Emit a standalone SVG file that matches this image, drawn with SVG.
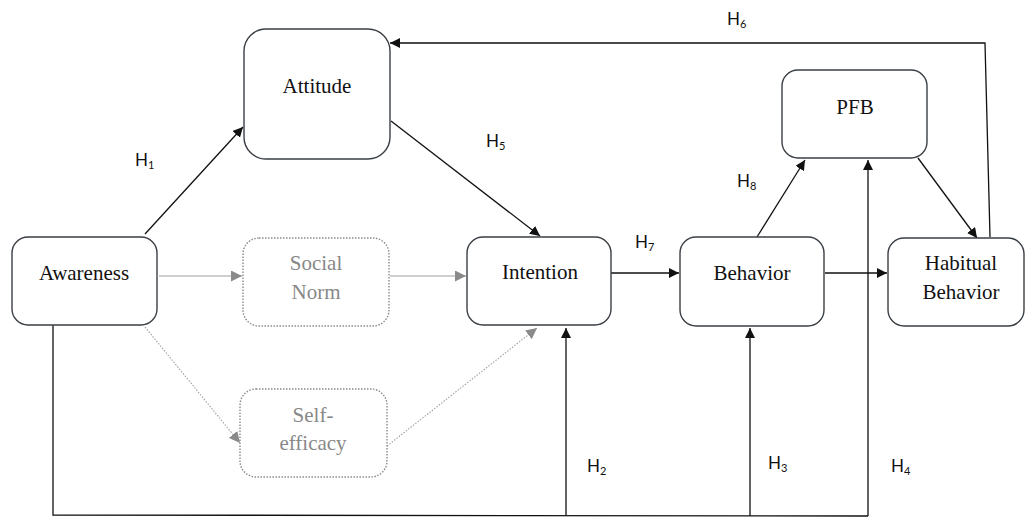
<svg xmlns="http://www.w3.org/2000/svg" width="1025" height="518" viewBox="0 0 1025 518">
<style>
.box{fill:#fff;stroke:#3a3f45;stroke-width:1.4}
.dbox{fill:#fff;stroke:#8a8a8a;stroke-width:1.4;stroke-dasharray:1.5 1.5}
.ntext{font-family:"Liberation Serif",serif;font-size:21px;fill:#111;text-anchor:middle}
.ntextg{font-family:"Liberation Serif",serif;font-size:21px;fill:#888;text-anchor:middle}
.hlabel{font-family:Lato,"Liberation Sans",sans-serif;font-size:17px;fill:#111}
.hsub{font-size:11px}
.c{fill:none;stroke:#111;stroke-width:1.3}
.cg{fill:none;stroke:#a0a0a0;stroke-width:1.2}
.cd{fill:none;stroke:#a0a0a0;stroke-width:1.1;stroke-dasharray:1.5 1.5}
</style>
<defs>
<marker id="ah" viewBox="0 0 10 10" refX="10" refY="5" markerWidth="10" markerHeight="10" markerUnits="userSpaceOnUse" orient="auto">
<path d="M0,0 L10,5 L0,10 z" fill="#111"/>
</marker>
<marker id="ahg" viewBox="0 0 10 10" refX="10" refY="5" markerWidth="11" markerHeight="11" markerUnits="userSpaceOnUse" orient="auto">
<path d="M0,0 L10,5 L0,10 z" fill="#8a8a8a"/>
</marker>
</defs>
<g id="connectors">
<line class="c" x1="145" y1="234" x2="243" y2="127" marker-end="url(#ah)"/>
<line class="c" x1="391" y1="121" x2="540" y2="236" marker-end="url(#ah)"/>
<polyline class="c" points="990,237 985,43 390,43" marker-end="url(#ah)"/>
<line class="cg" x1="159" y1="276" x2="242" y2="276" marker-end="url(#ahg)"/>
<line class="cg" x1="390" y1="276" x2="466" y2="276" marker-end="url(#ahg)"/>
<line class="cd" x1="145" y1="327" x2="240" y2="443" marker-end="url(#ahg)"/>
<line class="cd" x1="387" y1="446" x2="537" y2="328" marker-end="url(#ahg)"/>
<line class="c" x1="610" y1="273" x2="679" y2="273" marker-end="url(#ah)"/>
<line class="c" x1="825" y1="273" x2="887" y2="273" marker-end="url(#ah)"/>
<line class="c" x1="757" y1="237" x2="805" y2="160" marker-end="url(#ah)"/>
<line class="c" x1="918" y1="158" x2="977" y2="238" marker-end="url(#ah)"/>
<polyline class="c" points="53,325 53,515 868,516"/>
<line class="c" x1="566" y1="515" x2="566" y2="328" marker-end="url(#ah)"/>
<line class="c" x1="750" y1="516" x2="750" y2="328" marker-end="url(#ah)"/>
<line class="c" x1="868" y1="516" x2="868" y2="160" marker-end="url(#ah)"/>
</g>
<g id="labels">
<text class="hlabel" font-family="Lato" x="135" y="166">H<tspan class="hsub" dy="3">1</tspan></text>
<text class="hlabel" font-family="Lato" x="486" y="147">H<tspan class="hsub" dy="3">5</tspan></text>
<text class="hlabel" font-family="Lato" x="727" y="25">H<tspan class="hsub" dy="3">6</tspan></text>
<text class="hlabel" font-family="Lato" x="737" y="187">H<tspan class="hsub" dy="3">8</tspan></text>
<text class="hlabel" font-family="Lato" x="635" y="248">H<tspan class="hsub" dy="3">7</tspan></text>
<text class="hlabel" font-family="Lato" x="587" y="472">H<tspan class="hsub" dy="3">2</tspan></text>
<text class="hlabel" font-family="Lato" x="768" y="469">H<tspan class="hsub" dy="3">3</tspan></text>
<text class="hlabel" font-family="Lato" x="891" y="472">H<tspan class="hsub" dy="3">4</tspan></text>
</g>
<g id="attitude">
<rect class="box" x="244" y="29" width="146" height="130" rx="22"/>
<text class="ntext" font-family="Liberation Serif" x="317" y="93">Attitude</text>
</g>
<g id="pfb">
<rect class="box" x="782" y="70" width="145" height="88" rx="16"/>
<text class="ntext" font-family="Liberation Serif" x="855" y="114">PFB</text>
</g>
<g id="awareness">
<rect class="box" x="12" y="237" width="145" height="88" rx="16"/>
<text class="ntext" font-family="Liberation Serif" x="84" y="280">Awareness</text>
</g>
<g id="social-norm">
<rect class="dbox" x="243" y="238" width="146" height="88" rx="16"/>
<text class="ntextg" font-family="Liberation Serif" x="316" y="270">Social</text>
<text class="ntextg" font-family="Liberation Serif" x="316" y="299">Norm</text>
</g>
<g id="self-efficacy">
<rect class="dbox" x="240" y="389" width="147" height="88" rx="16"/>
<text class="ntextg" font-family="Liberation Serif" x="313" y="422">Self-</text>
<text class="ntextg" font-family="Liberation Serif" x="313" y="450">efficacy</text>
</g>
<g id="intention">
<rect class="box" x="467" y="237" width="144" height="88" rx="16"/>
<text class="ntext" font-family="Liberation Serif" x="540" y="279">Intention</text>
</g>
<g id="behavior">
<rect class="box" x="680" y="237" width="144" height="89" rx="16"/>
<text class="ntext" font-family="Liberation Serif" x="752" y="280">Behavior</text>
</g>
<g id="habitual-behavior">
<rect class="box" x="888" y="238" width="136" height="88" rx="16"/>
<text class="ntext" font-family="Liberation Serif" x="961" y="270">Habitual</text>
<text class="ntext" font-family="Liberation Serif" x="961" y="299">Behavior</text>
</g>
</svg>
